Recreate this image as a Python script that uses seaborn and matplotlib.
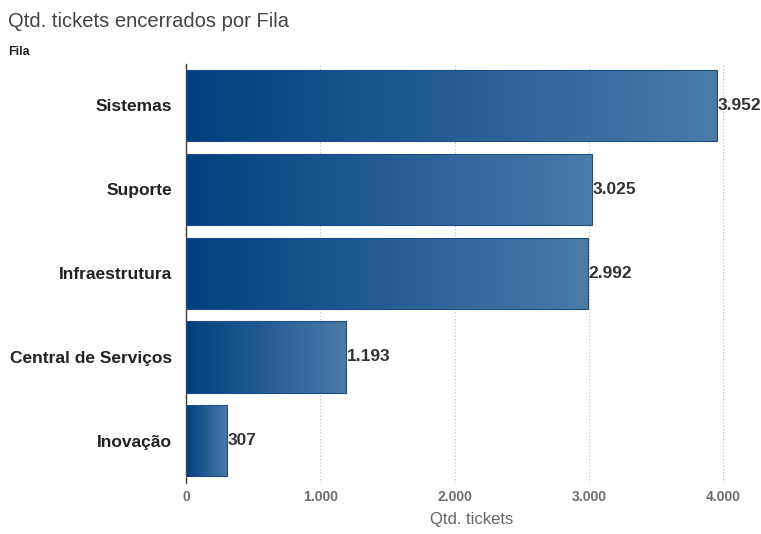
import numpy as np
import pandas as pd
import matplotlib.pyplot as plt
import matplotlib.colors as mcolors
import seaborn as sns

# Data
filas = ["Sistemas", "Suporte", "Infraestrutura", "Central de Serviços", "Inovação"]
tickets = [3952, 3025, 2992, 1193, 307]
x_ticks = [0, 1000, 2000, 3000, 4000]
x_tick_labels = ["0", "1.000", "2.000", "3.000", "4.000"]

df = pd.DataFrame({"Fila": filas, "Tickets": tickets})

sns.set_style("white")
plt.rcParams["font.family"] = ["Liberation Sans", "DejaVu Sans"]

fig = plt.figure(figsize=(7.61, 5.34), dpi=100)
ax = fig.add_axes([0.2444, 0.096, 0.750, 0.785])

sns.barplot(data=df, x="Tickets", y="Fila", order=filas, color="#1f5a94",
            width=0.85, edgecolor="#1d4f80", linewidth=0.8, ax=ax)

# Horizontal gradient inside each bar
cmap = mcolors.LinearSegmentedColormap.from_list("grad", ["#003f7f", "#4b7ca8"])
grad = np.linspace(0, 1, 256).reshape(1, -1)
for patch in ax.patches:
    x0, y0 = patch.get_x(), patch.get_y()
    w, h = patch.get_width(), patch.get_height()
    im = ax.imshow(grad, cmap=cmap, aspect="auto", extent=[x0, x0 + w, y0 + h, y0],
                   zorder=patch.get_zorder() + 0.1)
    im.set_clip_path(patch)
    patch.set_facecolor("none")
    patch.set_zorder(patch.get_zorder() + 0.2)

# Value labels
for i, v in enumerate(tickets):
    ax.text(v + 5, i, f"{v:,}".replace(",", "."), va="center", ha="left",
            fontsize=12.5, fontweight="bold", color="#333333", zorder=5)

ax.set_xlim(0, 4250)
ax.set_ylim(4.5, -0.5)
ax.set_xticks(x_ticks)
ax.set_xticklabels(x_tick_labels, fontsize=10, fontweight="bold", color="#6b6b6b")
ax.tick_params(axis="x", length=0, pad=5)
ax.tick_params(axis="y", length=5, width=0.8, color="#444444", labelsize=12.5, pad=5)
for lbl in ax.get_yticklabels():
    lbl.set_fontweight("bold")
    lbl.set_color("#222222")

ax.grid(axis="x", linestyle=(0, (1, 2)), color="#bbbbbb", linewidth=0.8)
ax.set_axisbelow(True)
for s in ["top", "right", "bottom"]:
    ax.spines[s].set_visible(False)
ax.spines["left"].set_color("#444444")
ax.spines["left"].set_linewidth(1.0)

ax.set_xlabel("Qtd. tickets", fontsize=12, color="#666666", labelpad=6)
ax.set_ylabel("")

fig.text(0.011, 0.960, "Qtd. tickets encerrados por Fila", fontsize=14.5,
         color="#444444", va="center", ha="left")
fig.text(0.011, 0.902, "Fila", fontsize=9, fontweight="bold", color="#222222",
         va="center", ha="left")

fig.savefig("out.png", dpi=100)
